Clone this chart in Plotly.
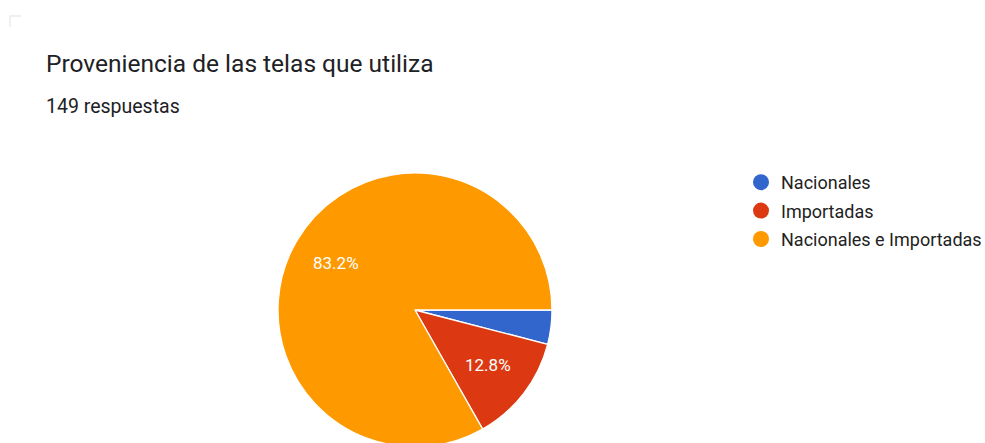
import math
import plotly.graph_objects as go

# Survey responses: origin of the fabrics used
categories = ["Nacionales", "Importadas", "Nacionales e Importadas"]
counts = [6, 19, 124]
colors = ["#3366cc", "#dc3912", "#ff9900"]
title_text = "Proveniencia de las telas que utiliza"
subtitle_text = f"{sum(counts)} respuestas"

W, H = 985, 460  # page shows the top 443 px; the pie runs just past the bottom edge
FONT = "Roboto, Arial, sans-serif"

# pie placement in pixels
CX, CY, R = 415, 310, 137
LABEL_R = 0.67  # labels sit along each slice's bisector at this fraction of the radius

total = sum(counts)
shares = [c / total * 100 for c in counts]


def px_x(p):
    return p / W


def px_y(p):
    return 1 - p / H


fig = go.Figure()

fig.add_trace(go.Pie(
    labels=categories,
    values=counts,
    textinfo="none",
    marker=dict(colors=colors, line=dict(color="white", width=1.3)),
    sort=False,
    direction="clockwise",
    rotation=90,
    showlegend=False,
    hoverinfo="label+percent",
    domain=dict(x=[px_x(CX - R), px_x(CX + R)], y=[px_y(CY + R), px_y(CY - R)]),
))

# percentage labels, placed on the bisector of every slice large enough to hold one
start = 0.0
for share in shares:
    mid = (start + share / 2) / 100 * 2 * math.pi  # clockwise from 3 o'clock
    start += share
    if share < 5:
        continue
    lx = CX + LABEL_R * R * math.cos(mid)
    ly = CY + LABEL_R * R * math.sin(mid)
    fig.add_annotation(text=f"{share:.1f}%", x=px_x(lx), y=px_y(ly - 1),
                       xref="paper", yref="paper", showarrow=False,
                       xanchor="center", yanchor="middle",
                       font=dict(family=FONT, size=17, color="white"))

# circle swatches for the legend
for name, col in zip(categories, colors):
    fig.add_trace(go.Scatter(
        x=[None], y=[None], mode="markers", name=name,
        marker=dict(color=col, size=16, symbol="circle"),
        legendgroup=name, hoverinfo="skip",
    ))

fig.add_annotation(text=title_text, x=px_x(44), y=px_y(64), xref="paper", yref="paper",
                   xanchor="left", yanchor="middle", showarrow=False,
                   font=dict(family=FONT, size=24.5, color="#202124"))
fig.add_annotation(text=subtitle_text, x=px_x(44), y=px_y(106), xref="paper", yref="paper",
                   xanchor="left", yanchor="middle", showarrow=False,
                   font=dict(family=FONT, size=19.5, color="#202124"))

# faint corner of the surrounding card
fig.add_shape(type="path", xref="paper", yref="paper",
              path=f"M {px_x(10)},{px_y(27)} L {px_x(10)},{px_y(16)} L {px_x(21)},{px_y(16)}",
              line=dict(color="#ececec", width=1.5))

fig.update_layout(
    width=W, height=H,
    margin=dict(l=0, r=0, t=0, b=0, autoexpand=False),
    paper_bgcolor="white", plot_bgcolor="white",
    xaxis=dict(visible=False), yaxis=dict(visible=False),
    legend=dict(x=px_x(741), y=px_y(164), xanchor="left", yanchor="top",
                font=dict(family=FONT, size=18, color="#222222"),
                tracegroupgap=2, itemsizing="trace", bgcolor="rgba(0,0,0,0)"),
)

fig.write_html("out.html",
               post_script="document.documentElement.style.overflow='hidden';"
                           "document.body.style.margin='0';document.body.style.overflow='hidden';")
